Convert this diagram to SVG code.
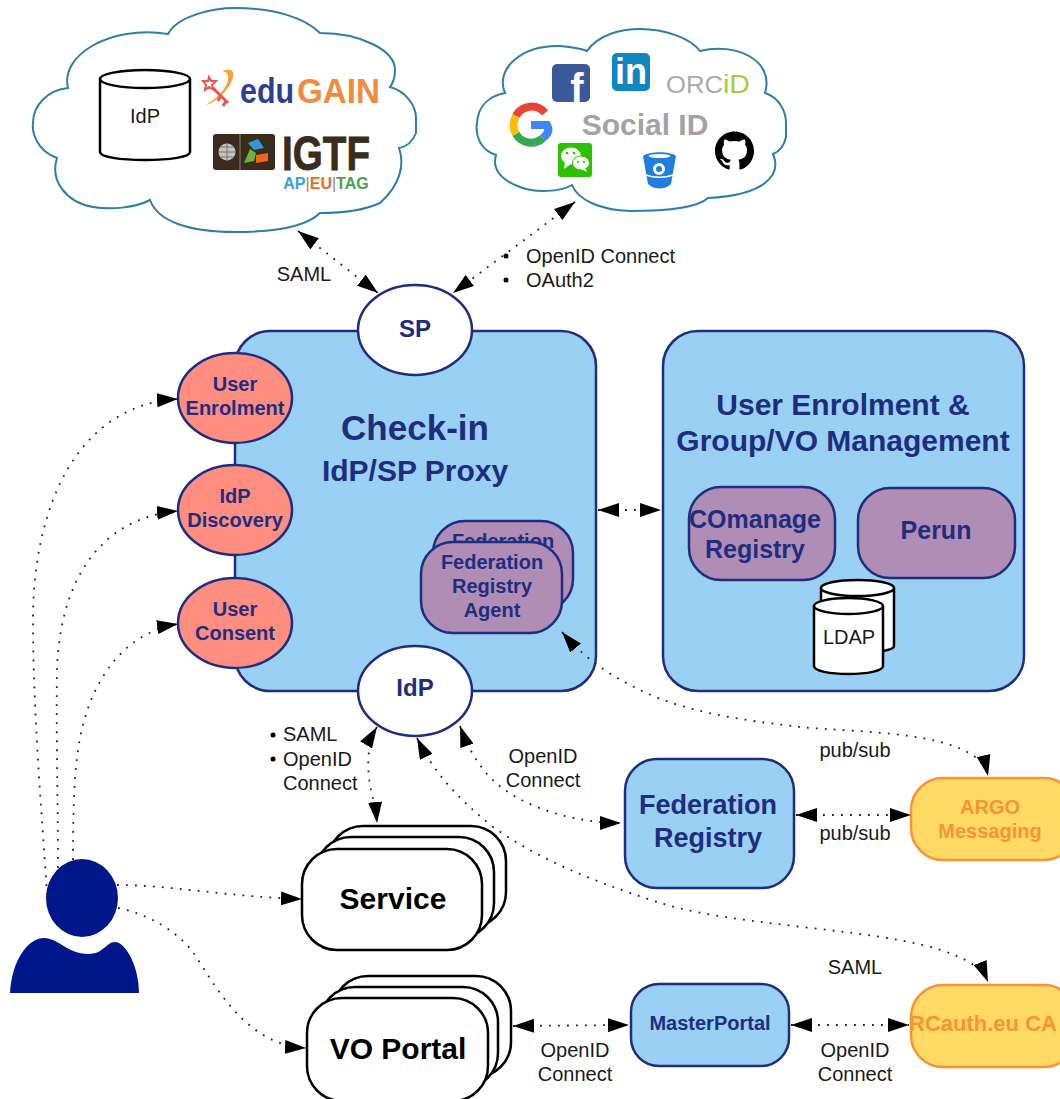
<svg xmlns="http://www.w3.org/2000/svg" width="1060" height="1099" viewBox="0 0 1060 1099">
<style>
text{font-family:"Liberation Sans",Arial,sans-serif;text-anchor:middle}
.s{text-anchor:start}
.cloud{fill:#fff;stroke:#2d7fa8;stroke-width:2}
.box{fill:#9ad0f4;stroke:#1e2d80;stroke-width:2.5}
.sal{fill:#ff8e80;stroke:#1e2d80;stroke-width:2.5}
.wht{fill:#fff;stroke:#1e2d80;stroke-width:2.5}
.pur{fill:#b08db5;stroke:#1e2d80;stroke-width:2.5}
.yel{fill:#ffd966;stroke:#f79433;stroke-width:2.5}
.stack{fill:#fff;stroke:#000;stroke-width:2.5}
.cyl{fill:#fff;stroke:#000;stroke-width:2.5}
.n{fill:#1e2d80;font-weight:bold}
.o{fill:#f79433;font-weight:bold;font-size:20px}
.l{fill:#1a1a1a;font-size:20px}
.k{fill:#000;font-weight:bold;font-size:30px}
.c{fill:none;stroke:#222;stroke-width:1.800;stroke-dasharray:1.800 7.200;marker-start:url(#a);marker-end:url(#a)}
.e{marker-start:none}
</style>
<defs>
<marker id="a" markerUnits="userSpaceOnUse" markerWidth="22" markerHeight="14" refX="21" refY="7" orient="auto-start-reverse"><path d="M0,0L21,7L0,14z" fill="#000"/></marker>
</defs>
<g id="cloud-idp">
<path class="cloud" d="M168,34C178,15 215,8 235,8C275,8 305,18 320,33C360,33 395,50 395,70C395,78 393,83 390,87C405,91 416,105 416,118L416,133C412,143 405,147 399,148C405,165 400,185 380,203C365,210 345,213 320,213C305,228 270,232 235,232C190,232 158,222 150,200C135,208 110,210 93,207C65,202 50,180 57,158C35,150 32,130 33,123C33,105 48,90 68,88C60,55 110,25 168,34Z"/>
<path class="cyl" d="M100,79V152C100,157 120,160 145,160C170,160 190,157 190,152V79"/>
<ellipse class="cyl" cx="145" cy="79" rx="45" ry="9"/>
<text class="l" x="145" y="123">IdP</text>
<path d="M222,71C230,68 235,70 233,77C230,90 215,103 206,105C218,98 230,85 228,76C228,72 225,72 222,71Z" fill="#f7a13c"/>
<path d="M213,88L228,103M221,96L218,101M226,101L223,106" stroke="#e8584f" stroke-width="3" fill="none"/>
<path d="M209,77L211,81L216,81L212,85L214,90L209,87L205,90L206,85L203,81L208,81Z" fill="#fff" stroke="#e8584f" stroke-width="2"/>
<text class="s" x="240" y="103" font-size="35" font-weight="bold" fill="#2a3f96" textLength="54" lengthAdjust="spacingAndGlyphs">edu</text>
<text class="s" x="297" y="103" font-size="35" font-weight="bold" fill="#f28b3c" textLength="83" lengthAdjust="spacingAndGlyphs">GAIN</text>
<rect x="213" y="134" width="62" height="36" rx="3" fill="#3a2c1c"/>
<path d="M240,134V170" stroke="#8a8074" stroke-width="1"/>
<circle cx="227" cy="152" r="8.500" fill="#c4c4c4"/>
<path d="M219,152H235M227,144V160M221,147H233M221,157H233" stroke="#555" stroke-width=".7" fill="none"/>
<path d="M248,143L258,139L264,148L254,150Z" fill="#2f9bd0"/>
<path d="M250,149L256,153L254,161L244,163Z" fill="#6bb33a"/>
<path d="M256,155L268,153L268,161L256,163Z" fill="#f0641e"/>
<text x="326" y="170" font-size="48" font-weight="bold" fill="#3a2c1c" stroke="#3a2c1c" stroke-width=".8" textLength="88" lengthAdjust="spacingAndGlyphs">IGTF</text>
<text x="326" y="189" font-size="16" font-weight="bold"><tspan fill="#3aa0d8">AP</tspan><tspan fill="#888" font-weight="normal">|</tspan><tspan fill="#ee6a28">EU</tspan><tspan fill="#888" font-weight="normal">|</tspan><tspan fill="#4aa24a">TAG</tspan></text>
</g>
<g id="cloud-social">
<path class="cloud" d="M587,51C598,35 620,29 640,29C665,29 690,38 700,51C735,42 775,60 765,93C780,98 786,112 786,123L786,137C784,147 778,152 773,154C782,175 765,195 708,198C695,210 650,211 630,211C600,210 578,200 572,185C560,192 535,193 520,187C500,180 492,168 496,155C480,150 475,135 477,123C478,105 490,96 505,93C495,70 520,45 560,46C570,47 580,48 587,51Z"/>
<rect x="552" y="64" width="38" height="38" rx="5" fill="#3b5998"/>
<text x="577" y="102" font-size="40" font-weight="bold" fill="#fff">f</text>
<rect x="612" y="53" width="38" height="38" rx="5" fill="#0e86c4"/>
<text x="631" y="84" font-size="36" font-weight="bold" fill="#fff">in</text>
<text class="s" x="666" y="93" font-size="24" fill="#aaa" textLength="57" lengthAdjust="spacingAndGlyphs">ORC</text>
<text class="s" x="723" y="93" font-size="25" fill="#a6ce39" textLength="27" lengthAdjust="spacingAndGlyphs">iD</text>
<path d="M545,113A17.500,17.500 0 0 0 516,116" fill="none" stroke="#ea4335" stroke-width="8"/>
<path d="M516,116A17.500,17.500 0 0 0 516,134" fill="none" stroke="#fbbc05" stroke-width="8"/>
<path d="M516,134A17.500,17.500 0 0 0 543,138" fill="none" stroke="#34a853" stroke-width="8"/>
<path d="M543,138C548,134 550,130 547,125H531" fill="none" stroke="#4285f4" stroke-width="8"/>
<text x="645" y="135" font-size="30" font-weight="bold" fill="#a3a3a3">Social ID</text>
<rect x="558" y="143" width="34" height="34" rx="3" fill="#2dc100"/>
<ellipse cx="571" cy="156" rx="10" ry="8.500" fill="#fff"/>
<path d="M565,162L564,169L571,164Z" fill="#fff"/>
<ellipse cx="581" cy="163" rx="8.500" ry="7" fill="#fff" stroke="#2dc100"/>
<path d="M585,168L587,172L581,169Z" fill="#fff"/>
<circle cx="567" cy="153" r="1.300" fill="#2dc100"/><circle cx="574" cy="153" r="1.300" fill="#2dc100"/>
<circle cx="578" cy="162" r="1.100" fill="#2dc100"/><circle cx="584" cy="162" r="1.100" fill="#2dc100"/>
<path d="M643,156C650,151 670,151 676,156L671,184C665,190 654,190 648,184Z" fill="#1f7fde"/>
<ellipse cx="659.500" cy="156" rx="11" ry="2" fill="#fff"/>
<path d="M646,175C654,178 665,178 673,175" fill="none" stroke="#fff" stroke-width="1.500"/>
<circle cx="659" cy="169" r="4.500" fill="none" stroke="#fff" stroke-width="3"/>
<path transform="translate(715,131.500) scale(2.440)" fill="#000" d="M8 0C3.58 0 0 3.58 0 8c0 3.54 2.29 6.53 5.47 7.59.4.07.55-.17.55-.38 0-.19-.01-.82-.01-1.490-2.010.37-2.530-.49-2.690-.94-.09-.23-.48-.94-.82-1.130-.28-.15-.68-.52-.01-.53.63-.01 1.080.58 1.230.82.72 1.210 1.870.87 2.330.66.07-.52.28-.87.51-1.070-1.780-.2-3.640-.89-3.640-3.950 0-.87.31-1.590.82-2.150-.08-.2-.36-1.020.08-2.120 0 0 .67-.21 2.200.82.64-.18 1.320-.27 2-.27.68 0 1.360.09 2 .27 1.530-1.040 2.200-.82 2.200-.82.44 1.100.16 1.920.08 2.120.51.56.82 1.270.82 2.150 0 3.070-1.870 3.750-3.650 3.950.29.25.54.73.54 1.480 0 1.070-.01 1.930-.01 2.200 0 .21.15.46.55.38A8.013 8.013 0 0 0 16 8c0-4.420-3.580-8-8-8z"/>
</g>
<g id="checkin">
<rect class="box" x="235" y="331" width="361" height="360" rx="35"/>
<text class="n" x="415" y="440" font-size="35">Check-in</text>
<text class="n" x="415" y="481" font-size="30">IdP/SP Proxy</text>
</g>
<g id="management">
<rect class="box" x="663" y="331" width="361" height="360" rx="35"/>
<text class="n" x="843" y="415" font-size="30">User Enrolment &amp;</text>
<text class="n" x="843" y="451" font-size="30">Group/VO Management</text>
</g>
<g id="sp"><ellipse class="wht" cx="415" cy="330" rx="57" ry="45"/><text class="n" x="415" y="337" font-size="24">SP</text></g>
<g id="idp"><ellipse class="wht" cx="415" cy="691" rx="57" ry="45"/><text class="n" x="415" y="696" font-size="24">IdP</text></g>
<g id="user-enrolment"><ellipse class="sal" cx="235" cy="398" rx="57" ry="45"/><text class="n" x="235" y="391" font-size="20">User</text><text class="n" x="235" y="415" font-size="20">Enrolment</text></g>
<g id="idp-discovery"><ellipse class="sal" cx="235" cy="510" rx="57" ry="45"/><text class="n" x="235" y="503" font-size="20">IdP</text><text class="n" x="235" y="527" font-size="20">Discovery</text></g>
<g id="user-consent"><ellipse class="sal" cx="235" cy="623" rx="57" ry="45"/><text class="n" x="235" y="616" font-size="20">User</text><text class="n" x="235" y="640" font-size="20">Consent</text></g>
<g id="fed-agent">
<rect class="pur" x="433" y="521" width="140" height="90" rx="32"/>
<text class="n" x="503" y="548" font-size="20">Federation</text>
<rect class="pur" x="421" y="542" width="141" height="91" rx="32"/>
<text class="n" x="492" y="569" font-size="20">Federation</text>
<text class="n" x="492" y="593" font-size="20">Registry</text>
<text class="n" x="492" y="617" font-size="20">Agent</text>
</g>
<g id="comanage"><rect class="pur" x="689" y="487" width="146" height="93" rx="32"/><text class="n" x="755" y="528" font-size="25">COmanage</text><text class="n" x="755" y="558" font-size="25">Registry</text></g>
<g id="perun"><rect class="pur" x="858" y="488" width="157" height="90" rx="32"/><text class="n" x="936" y="539" font-size="25">Perun</text></g>
<g id="ldap">
<path class="cyl" d="M821,588V646C821,650 838,653 857,653C878,653 894,650 894,646V588"/><ellipse class="cyl" cx="857.500" cy="588" rx="36.500" ry="8"/>
<path class="cyl" d="M814,606V666C814,671 830,674 848.500,674C867,674 883,671 883,666V606"/><ellipse class="cyl" cx="848.500" cy="606" rx="34.500" ry="8"/>
<text class="l" x="849" y="644">LDAP</text>
</g>
<g id="federation-registry"><rect class="box" x="625" y="759" width="169" height="129" rx="32"/><text class="n" x="708" y="814" font-size="27">Federation</text><text class="n" x="708" y="847" font-size="27">Registry</text></g>
<g id="argo"><rect class="yel" x="911" y="778" width="165" height="82" rx="32"/><text class="o" x="990" y="814">ARGO</text><text class="o" x="990" y="838">Messaging</text></g>
<g id="rcauth"><rect class="yel" x="911" y="985" width="165" height="82" rx="32"/><text class="o" x="983" y="1031" style="font-size:22px">RCauth.eu CA</text></g>
<g id="masterportal"><rect class="box" x="631" y="984" width="158" height="82" rx="28"/><text class="n" x="710" y="1030" font-size="20">MasterPortal</text></g>
<g id="service">
<rect class="stack" x="328" y="826" width="178" height="101" rx="35"/>
<rect class="stack" x="316" y="837" width="178" height="101" rx="35"/>
<rect class="stack" x="302" y="849" width="180" height="101" rx="35"/>
<text class="k" x="393" y="909">Service</text>
</g>
<g id="vo-portal">
<rect class="stack" x="333" y="976" width="178" height="101" rx="35"/>
<rect class="stack" x="320" y="987" width="178" height="101" rx="35"/>
<rect class="stack" x="307" y="998" width="181" height="103" rx="35"/>
<text class="k" x="398" y="1059">VO Portal</text>
</g>
<g id="user">
<ellipse cx="82" cy="898" rx="36" ry="39" fill="#00178c"/>
<path d="M10,993C12,960 28,938 44,938C58,938 68,954 88,954C104,954 106,942 115,942C125,942 139,965 139,993Z" fill="#00178c"/>
</g>
<g id="connectors">
<path class="c" d="M298,231L378,293"/>
<path class="c" d="M575,202L453,293"/>
<path class="c e" d="M47,895C44,840 33,720 33,620C33,510 75,405 178,399"/>
<path class="c e" d="M58,868C58,800 56,740 57,670C60,580 100,518 178,511"/>
<path class="c e" d="M73,860C73,800 75,770 78,750C88,680 125,632 178,624"/>
<path class="c" d="M598,510H661"/>
<path class="c" d="M562,632C590,665 620,680 640,690C690,715 760,722 800,727C860,733 978,730 988,776"/>
<path class="c" d="M377,727C366,745 367,770 371,790C374,803 376,812 377,823"/>
<path class="c" d="M460,726C472,760 490,780 505,790C530,808 575,823 621,823"/>
<path class="c" d="M417,738C435,775 460,800 493,827C540,860 590,880 657,902C760,935 965,925 988,982"/>
<path class="c" d="M796,815H911"/>
<path class="c e" d="M117,885C170,885 230,897 302,899"/>
<path class="c e" d="M118,908C150,915 175,930 193,952C215,985 245,1045 306,1048"/>
<path class="c" d="M513,1026L629,1025"/>
<path class="c" d="M791,1025H909"/>
</g>
<g id="labels">
<text class="l" x="304" y="281">SAML</text>
<text class="l s" x="526" y="263">OpenID Connect</text>
<text class="l s" x="526" y="287">OAuth2</text>
<circle cx="506" cy="256" r="2.500"/><circle cx="506" cy="280" r="2.500"/>
<text class="l s" x="283" y="741">SAML</text>
<text class="l s" x="283" y="766">OpenID</text>
<text class="l s" x="283" y="790">Connect</text>
<circle cx="273" cy="735" r="2.500"/><circle cx="273" cy="759" r="2.500"/>
<text class="l" x="543" y="763">OpenID</text>
<text class="l" x="543" y="787">Connect</text>
<text class="l" x="855" y="757">pub/sub</text>
<text class="l" x="855" y="840">pub/sub</text>
<text class="l" x="855" y="974">SAML</text>
<text class="l" x="575" y="1057">OpenID</text>
<text class="l" x="575" y="1081">Connect</text>
<text class="l" x="855" y="1057">OpenID</text>
<text class="l" x="855" y="1081">Connect</text>
</g>
</svg>
